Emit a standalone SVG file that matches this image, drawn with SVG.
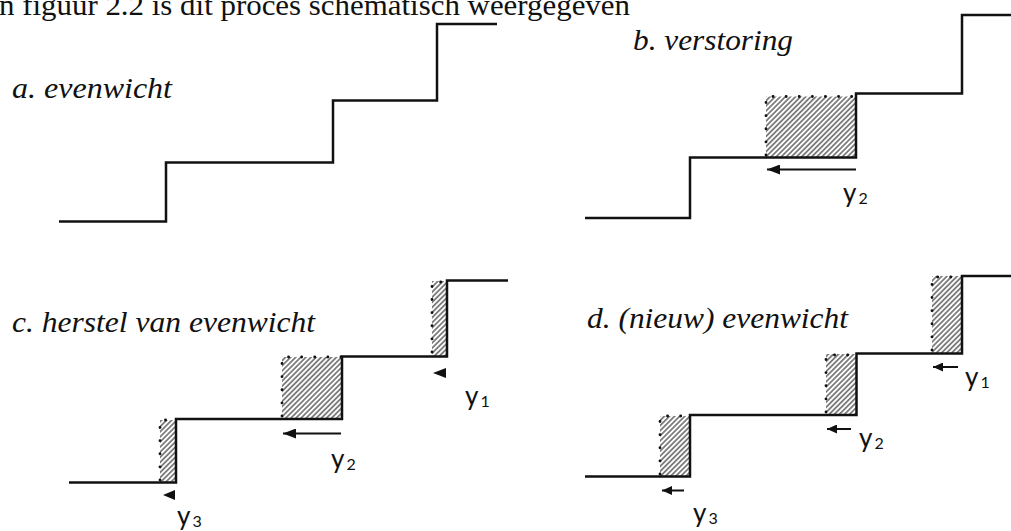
<svg xmlns="http://www.w3.org/2000/svg" width="1011" height="531" viewBox="0 0 1011 531">
<style>
.stair{fill:none;stroke:#111;stroke-width:2.5;stroke-linejoin:miter}
.hatch{fill:url(#hatch);stroke:none}
.dots{fill:none;stroke:#111;stroke-width:2.8;stroke-dasharray:0.1 13;stroke-linecap:round}
.lbl{font-family:"Liberation Serif","Times New Roman",serif;font-style:italic;font-size:29px;fill:#111}
.hdr{font-family:"Liberation Serif","Times New Roman",serif;font-size:30px;fill:#111}
.y{font-family:Lato,"Open Sans",sans-serif;font-size:26px;fill:#111}
.sub{font-size:16px}
.arr{stroke:#111;stroke-width:2;fill:none}
.big{marker-end:url(#ah)}
.small{marker-end:url(#ahs)}
.tri{fill:#111}
</style>
<defs>
<pattern id="hatch" patternUnits="userSpaceOnUse" width="3.6" height="3.6" patternTransform="rotate(45)">
<line x1="0.9" y1="0" x2="0.9" y2="3.6" stroke="#3a3a3a" stroke-width="1.2"/>
</pattern>
<marker id="ah" markerUnits="userSpaceOnUse" markerWidth="14" markerHeight="10" refX="13" refY="5" orient="auto">
<path d="M0,0 L13,5 L0,10 z" fill="#111"/>
</marker>
<marker id="ahs" markerUnits="userSpaceOnUse" markerWidth="11" markerHeight="9" refX="10" refY="4.5" orient="auto">
<path d="M0,0 L10,4.5 L0,9 z" fill="#111"/>
</marker>
</defs>
<text class="hdr" x="-1" y="15" textLength="631" lengthAdjust="spacingAndGlyphs">n figuur 2.2 is dit proces schematisch weergegeven</text>

<g id="panel-a">
<text class="lbl" x="12" y="98" textLength="160" lengthAdjust="spacingAndGlyphs">a. evenwicht</text>
<path class="stair" d="M59,221.5 H166 V162.5 H333 V100.5 H437 V24 H497"/>
</g>

<g id="panel-b">
<text class="lbl" x="633" y="50" textLength="160" lengthAdjust="spacingAndGlyphs">b. verstoring</text>
<rect class="hatch" x="766" y="96.5" width="90" height="61"/>
<path class="dots" d="M766,155 V96.5 H856"/>
<path class="stair" d="M585,218 H690 V157.5 H856 V93.5 H962 V15 H1011"/>
<text class="y" x="843" y="202">y<tspan class="sub" dx="2" dy="2">2</tspan></text>
</g>

<g id="panel-c">
<text class="lbl" x="12" y="331.5" textLength="303" lengthAdjust="spacingAndGlyphs">c. herstel van evenwicht</text>
<rect class="hatch" x="432" y="281" width="15" height="75.5"/>
<path class="dots" d="M432,352 V282 H447"/>
<rect class="hatch" x="282" y="357" width="60" height="62"/>
<path class="dots" d="M282,416 V357 H342"/>
<rect class="hatch" x="160" y="420" width="16" height="62.5"/>
<path class="dots" d="M160,480 V420 H176"/>
<path class="stair" d="M69,482.5 H176 V419 H342 V356.5 H447 V280.5 H508"/>
<text class="y" x="465" y="405">y<tspan class="sub" dx="2" dy="2">1</tspan></text>
<text class="y" x="331" y="468">y<tspan class="sub" dx="2" dy="2">2</tspan></text>
<text class="y" x="177" y="525">y<tspan class="sub" dx="2" dy="2">3</tspan></text>
</g>

<g id="panel-d">
<text class="lbl" x="587" y="328" textLength="261" lengthAdjust="spacingAndGlyphs">d. (nieuw) evenwicht</text>
<rect class="hatch" x="932" y="276" width="30" height="77.5"/>
<path class="dots" d="M932,350 V277 H962"/>
<rect class="hatch" x="826" y="354" width="30.5" height="61"/>
<path class="dots" d="M826,412 V355 H856"/>
<rect class="hatch" x="660" y="416" width="30" height="60.5"/>
<path class="dots" d="M660,474 V416 H690"/>
<path class="stair" d="M585,476.5 H690 V415 H856.5 V353.5 H962 V276 H1011"/>
<text class="y" x="965" y="386">y<tspan class="sub" dx="2" dy="2">1</tspan></text>
<text class="y" x="859" y="447">y<tspan class="sub" dx="2" dy="2">2</tspan></text>
<text class="y" x="693" y="522">y<tspan class="sub" dx="2" dy="2">3</tspan></text>
</g>

<g id="connectors">
<path class="arr big" d="M856,169.5 H767"/>
<path class="arr big" d="M341,433.5 H283"/>
<polygon class="tri" points="433,373 446,368 446,378"/>
<polygon class="tri" points="163,495 175,490 175,500"/>
<path class="arr small" d="M958,367 H933"/>
<path class="arr small" d="M851,429 H827"/>
<path class="arr small" d="M684,490.5 H662"/>
</g>
</svg>
